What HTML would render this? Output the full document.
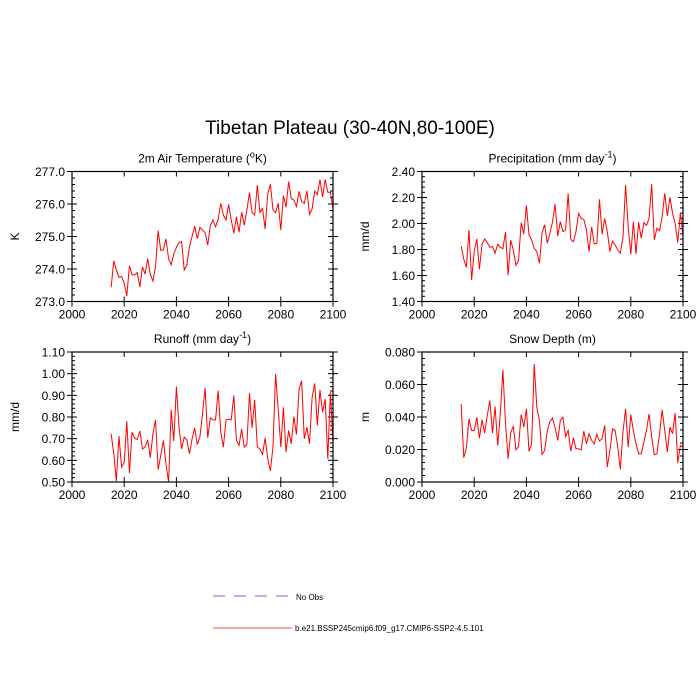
<!DOCTYPE html>
<html><head><meta charset="utf-8"><style>
html,body{margin:0;padding:0;background:#fff;}
svg{display:block;font-family:"Liberation Sans",sans-serif;}
</style></head><body>
<svg id="chart" width="700" height="700" viewBox="0 0 700 700">
<text x="350" y="134" font-size="19" text-anchor="middle">Tibetan Plateau (30-40N,80-100E)</text>
<g>
<line x1="213" y1="596" x2="288" y2="596" stroke="#6666ff" stroke-width="1" stroke-dasharray="12,9"/>
<text x="296" y="600" font-size="8">No Obs</text>
<line x1="213" y1="628" x2="292" y2="628" stroke="#ff4444" stroke-width="1"/>
<text x="295" y="631" font-size="8">b.e21.BSSP245cmip6.f09_g17.CMIP6-SSP2-4.5.101</text>
</g>
</svg>
<script>
var years = [];
for (var yy = 2015; yy <= 2100; yy++) years.push(yy);
var xTicks = [2000, 2020, 2040, 2060, 2080, 2100];
var tempValues = [273.44,274.25,273.97,273.74,273.77,273.56,273.17,274.10,273.82,273.82,273.89,273.45,274.07,273.84,274.32,273.84,273.63,274.07,275.18,274.57,274.59,274.93,274.32,274.13,274.46,274.67,274.81,274.84,273.97,274.12,274.69,275.0,275.32,274.93,275.28,275.2,275.12,274.73,275.34,275.51,275.30,275.53,276.02,275.66,275.51,275.99,275.51,275.10,275.61,275.13,275.75,275.35,275.81,276.35,275.74,275.66,276.58,275.74,275.86,275.23,276.32,276.61,275.83,275.73,276.02,275.2,276.26,275.9,276.69,276.17,276.12,275.92,276.39,276.07,276.02,276.41,275.68,275.85,276.40,276.29,276.75,276.22,276.76,276.36,276.36,275.86];
var precValues = [1.827,1.725,1.663,1.950,1.566,1.784,1.881,1.648,1.840,1.881,1.853,1.817,1.822,1.771,1.842,1.817,1.807,1.935,1.602,1.871,1.796,1.679,1.715,2.006,1.919,2.139,1.912,1.873,1.809,1.784,1.694,1.929,1.991,1.848,1.924,2.011,2.149,1.904,2.014,1.937,1.950,2.231,1.878,1.860,1.937,2.078,2.039,2.032,1.950,1.784,1.975,1.842,1.848,2.185,1.917,2.039,1.937,1.784,1.865,1.835,1.796,1.771,1.894,2.295,1.975,1.763,2.014,1.766,2.009,1.886,2.006,1.986,2.039,2.303,1.873,1.963,1.945,2.052,2.231,2.057,2.201,2.078,2.001,1.853,2.083,1.899];
var runoffValues = [0.722,0.630,0.505,0.712,0.569,0.590,0.781,0.541,0.730,0.702,0.696,0.735,0.653,0.661,0.695,0.612,0.722,0.787,0.557,0.623,0.692,0.584,0.500,0.833,0.689,0.940,0.753,0.653,0.707,0.695,0.630,0.699,0.750,0.673,0.707,0.814,0.934,0.704,0.796,0.787,0.787,0.922,0.730,0.661,0.787,0.790,0.787,0.899,0.692,0.669,0.744,0.661,0.673,0.910,0.750,0.879,0.661,0.653,0.627,0.704,0.607,0.551,0.661,0.998,0.837,0.661,0.845,0.638,0.738,0.676,0.802,0.719,0.929,0.968,0.699,0.753,0.676,0.891,0.955,0.761,0.925,0.822,0.883,0.607,0.914,0.676];
var snowValues = [0.0481,0.0149,0.0211,0.0389,0.0317,0.0317,0.0399,0.0270,0.0383,0.0301,0.0409,0.0501,0.0301,0.0464,0.0225,0.0419,0.0690,0.0358,0.0143,0.0307,0.0342,0.0198,0.0219,0.0415,0.0338,0.0450,0.0188,0.0235,0.0726,0.0460,0.0379,0.0170,0.0194,0.0313,0.0372,0.0393,0.0334,0.0256,0.0379,0.0399,0.0280,0.0317,0.0190,0.0272,0.0205,0.0205,0.0198,0.0313,0.0235,0.0297,0.0256,0.0235,0.0293,0.0252,0.0266,0.0348,0.0092,0.0194,0.0327,0.0317,0.0215,0.0078,0.0307,0.0450,0.0215,0.0415,0.0313,0.0235,0.0174,0.0174,0.0246,0.0317,0.0419,0.0276,0.0168,0.0174,0.0293,0.0444,0.0317,0.0184,0.0338,0.0297,0.0424,0.0117,0.0225,0.0215];
var tempTicks = ["273.0","274.0","275.0","276.0","277.0"];
var precTicks = ["1.40","1.60","1.80","2.00","2.20","2.40"];
var runoffTicks = ["0.50","0.60","0.70","0.80","0.90","1.00","1.10"];
var snowTicks = ["0.000","0.020","0.040","0.060","0.080"];

var NS = "http://www.w3.org/2000/svg";
var svg = document.getElementById("chart");
function mk(tag, attrs, parent) {
  var e = document.createElementNS(NS, tag);
  for (var k in attrs) e.setAttribute(k, attrs[k]);
  parent.appendChild(e);
  return e;
}
function panel(key, x0, y0, title, ylab, ticks, values) {
  var w = 261, h = 130;
  var g = mk("g", {}, svg);
  
  
  var ymin = parseFloat(ticks[0]), ymax = parseFloat(ticks[ticks.length - 1]);
  function sx(v) { return x0 + (v - 2000) / 100 * w; }
  function sy(v) { return y0 + h - (v - ymin) / (ymax - ymin) * h; }
  var t = mk("text", {x: x0 + w / 2, y: y0 - 9, "font-size": 12, "text-anchor": "middle"}, g);
  t.innerHTML = title;
  
  
  var yl = mk("text", {x: 0, y: 0, "font-size": 12, "text-anchor": "middle", transform: "translate(" + (x0 - 53) + "," + (y0 + h / 2) + ") rotate(-90)"}, g);
  yl.textContent = ylab;
  
  
  // y ticks
  var nInt = ticks.length - 1;
  for (var i = 0; i <= nInt * 5; i++) {
    var v = ymin + (ymax - ymin) * i / (nInt * 5);
    var y = sy(v);
    var major = i % 5 === 0;
    var L = major ? 5 : 3;
    mk("line", {x1: x0 - (major ? 5 : 0), x2: x0 + L, y1: y, y2: y, stroke: "#000", "stroke-width": 1}, g);
    mk("line", {x1: x0 + w + (major ? 5 : 0), x2: x0 + w - L, y1: y, y2: y, stroke: "#000", "stroke-width": 1}, g);
  }
  for (var i = 0; i < ticks.length; i++) {
    var tl = mk("text", {x: x0 - 7, y: sy(parseFloat(ticks[i])) + 4.5, "font-size": 12, "text-anchor": "end"}, g);
    tl.textContent = ticks[i];
    
    
  }
  for (var i = 0; i < xTicks.length; i++) {
    var x = sx(xTicks[i]);
    mk("line", {x1: x, x2: x, y1: y0 + h - 5, y2: y0 + h + 5, stroke: "#000", "stroke-width": 1}, g);
    mk("line", {x1: x, x2: x, y1: y0, y2: y0 + 5, stroke: "#000", "stroke-width": 1}, g);
    var xl = mk("text", {x: x, y: y0 + h + 17, "font-size": 12, "text-anchor": "middle"}, g);
    xl.textContent = xTicks[i];
    
    
  }
  var d = "";
  for (var i = 0; i < values.length; i++) d += (i ? "L" : "M") + sx(years[i]).toFixed(2) + "," + sy(values[i]).toFixed(2);
  var p = mk("path", {d: d, fill: "none", stroke: "#ff0000", "stroke-width": 1}, g);
  
  
  var fr = mk("rect", {x: x0, y: y0, width: w, height: h, fill: "none", stroke: "#000", "stroke-width": 1.2}, g);
  
  
}
panel("temperature", 72, 171.5, "2m Air Temperature (<tspan font-size='9' dy='-5'>o</tspan><tspan dy='5'>K)</tspan>", "K", tempTicks, tempValues);
panel("precipitation", 422, 171.5, "Precipitation (mm day<tspan font-size='9' dy='-5'>-1</tspan><tspan dy='5'>)</tspan>", "mm/d", precTicks, precValues);
panel("runoff", 72, 352, "Runoff (mm day<tspan font-size='9' dy='-5'>-1</tspan><tspan dy='5'>)</tspan>", "mm/d", runoffTicks, runoffValues);
panel("snow-depth", 422, 352, "Snow Depth (m)", "m", snowTicks, snowValues);
</script>
</body></html>
